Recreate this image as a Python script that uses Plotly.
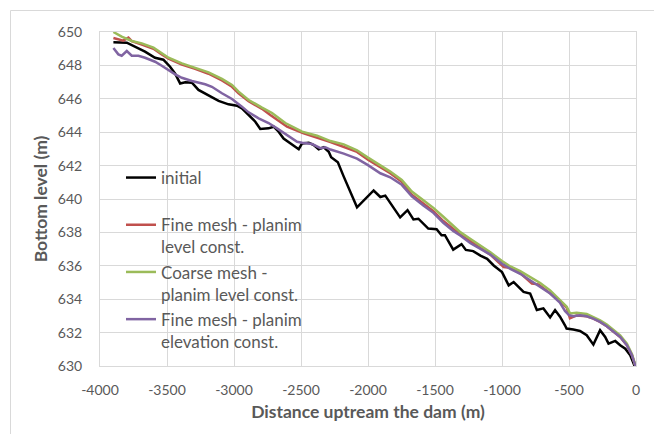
import plotly.graph_objects as go

# ---- data (distance upstream of the dam [m], bottom level [m]) ----
initial = [(-3900, 649.38), (-3800, 649.36), (-3664, 648.82), (-3589, 648.46), (-3527, 648.34),
           (-3477, 647.92), (-3439, 647.5), (-3402, 646.92), (-3364, 646.99), (-3314, 646.96),
           (-3265, 646.53), (-3190, 646.19), (-3115, 645.87), (-3041, 645.67), (-2978, 645.59),
           (-2941, 645.43), (-2891, 645.03), (-2841, 644.63), (-2804, 644.19), (-2742, 644.23),
           (-2704, 644.33), (-2667, 644.03), (-2630, 643.62), (-2555, 643.23), (-2517, 642.98),
           (-2492, 643.33), (-2442, 643.37), (-2405, 643.23), (-2368, 642.98), (-2330, 643.10),
           (-2293, 642.83), (-2275, 642.5), (-2225, 642.2), (-2181, 641.34), (-2082, 639.5),
           (-1958, 640.51), (-1908, 640.12), (-1871, 640.2), (-1760, 638.9), (-1705, 639.33),
           (-1661, 638.78), (-1624, 638.82), (-1550, 638.23), (-1488, 638.19), (-1451, 637.83),
           (-1426, 637.83), (-1364, 636.97), (-1302, 637.3), (-1270, 636.95), (-1215, 636.88),
           (-1161, 636.61), (-1111, 636.42), (-1062, 636.02), (-1000, 635.62), (-950, 634.83),
           (-913, 635.03), (-876, 634.73), (-839, 634.44), (-790, 634.34), (-740, 633.35),
           (-691, 633.45), (-641, 632.91), (-604, 633.35), (-567, 632.95), (-530, 632.44),
           (-518, 632.24), (-468, 632.18), (-418, 632.1), (-368, 631.84), (-318, 631.28),
           (-268, 632.14), (-230, 631.74), (-205, 631.34), (-155, 631.5), (-118, 631.24),
           (-80, 631.04), (-43, 630.64), (0, 629.8)]

fine_level = [(-3900, 649.64), (-3826, 649.48), (-3788, 649.66), (-3763, 649.45), (-3688, 649.25),
              (-3601, 649.0), (-3539, 648.65), (-3489, 648.4), (-3389, 648.05), (-3290, 647.8),
              (-3190, 647.5), (-3090, 647.1), (-3015, 646.72), (-2966, 646.33), (-2891, 645.85),
              (-2791, 645.4), (-2729, 645.03), (-2604, 644.33), (-2480, 643.93), (-2380, 643.69),
              (-2280, 643.41), (-2082, 642.82), (-2000, 642.36), (-1834, 641.54), (-1748, 641.04),
              (-1673, 640.26), (-1587, 639.76), (-1512, 639.27), (-1438, 638.68), (-1364, 638.23),
              (-1309, 637.86), (-1223, 637.41), (-1161, 637.07), (-1087, 636.67), (-988, 635.92),
              (-938, 635.88), (-864, 635.56), (-777, 634.93), (-728, 634.89), (-641, 634.38),
              (-567, 633.9), (-517, 633.5), (-493, 632.86), (-443, 633.03), (-368, 632.98),
              (-318, 632.84), (-268, 632.64), (-218, 632.38), (-168, 632.04), (-118, 631.74),
              (-68, 631.24), (-30, 630.64), (0, 629.9)]

coarse_level = [(-3900, 650.0), (-3838, 649.72), (-3763, 649.46), (-3688, 649.32), (-3601, 649.06),
                (-3539, 648.72), (-3489, 648.46), (-3389, 648.12), (-3290, 647.86), (-3190, 647.58),
                (-3090, 647.19), (-3015, 646.83), (-2966, 646.43), (-2891, 645.93), (-2791, 645.47),
                (-2716, 645.15), (-2617, 644.55), (-2492, 644.03), (-2380, 643.79), (-2280, 643.47),
                (-2181, 643.27), (-2082, 642.92), (-2000, 642.48), (-1908, 642.03), (-1834, 641.64),
                (-1748, 641.14), (-1673, 640.45), (-1587, 639.92), (-1512, 639.47), (-1438, 638.94),
                (-1364, 638.39), (-1309, 638.0), (-1235, 637.6), (-1161, 637.21), (-1087, 636.81),
                (-1000, 636.28), (-938, 635.96), (-864, 635.68), (-790, 635.33), (-715, 634.97),
                (-641, 634.53), (-567, 633.98), (-517, 633.55), (-493, 633.15), (-443, 633.19),
                (-368, 633.12), (-318, 632.95), (-268, 632.74), (-218, 632.48), (-168, 632.14),
                (-118, 631.84), (-68, 631.34), (-30, 630.7), (0, 629.9)]

fine_elev = [(-3900, 649.04), (-3863, 648.66), (-3838, 648.58), (-3800, 648.86), (-3763, 648.58),
             (-3713, 648.58), (-3664, 648.46), (-3589, 648.22), (-3539, 647.98), (-3489, 647.72),
             (-3439, 647.46), (-3389, 647.26), (-3314, 647.07), (-3215, 646.87), (-3165, 646.72),
             (-3090, 646.33), (-3015, 645.99), (-2941, 645.53), (-2891, 645.19), (-2816, 644.83),
             (-2742, 644.55), (-2679, 644.23), (-2617, 643.88), (-2529, 643.43), (-2492, 643.37),
             (-2417, 643.29), (-2355, 643.04), (-2318, 643.10), (-2280, 642.96), (-2181, 642.72),
             (-2082, 642.42), (-2000, 642.03), (-1908, 641.54), (-1834, 641.30), (-1748, 640.85),
             (-1673, 640.16), (-1587, 639.61), (-1512, 639.17), (-1438, 638.58), (-1364, 638.09),
             (-1309, 637.8), (-1235, 637.35), (-1161, 637.01), (-1087, 636.67), (-1000, 636.12),
             (-938, 635.82), (-864, 635.52), (-790, 635.13), (-715, 634.77), (-641, 634.34),
             (-568, 633.8), (-530, 633.3), (-500, 633.04), (-468, 632.98), (-418, 633.04),
             (-368, 632.98), (-318, 632.84), (-268, 632.64), (-218, 632.38), (-168, 632.04),
             (-118, 631.74), (-68, 631.24), (-30, 630.64), (0, 629.9)]

series_names = ["initial", "Fine mesh - planim<br>level const.",
                "Coarse mesh -<br>planim level const.", "Fine mesh - planim<br>elevation const."]
series_data = [initial, fine_level, coarse_level, fine_elev]
series_colors = ["#000000", "#C0504D", "#9BBB59", "#8064A2"]

x_ticks = [-4000, -3500, -3000, -2500, -2000, -1500, -1000, -500, 0]
y_ticks = [630, 632, 634, 636, 638, 640, 642, 644, 646, 648, 650]

W, H = 654, 434
ML, MR, MT, MB = 100, 18, 32, 68

fig = go.Figure()
for name, data, color in zip(series_names, series_data, series_colors):
    if "<br>" not in name:
        name = name + "<br>\u00a0"
    fig.add_trace(go.Scatter(
        x=[p[0] for p in data], y=[p[1] for p in data], mode="lines", name=name,
        line=dict(color=color, width=2.5), hoverinfo="skip"))

FONT = "Lato, 'Open Sans', sans-serif"
GRID = "#D9D9D9"
TXT = "#595959"

pw = W - ML - MR
ph = H - MT - MB


def px_x(p):
    return (p - ML) / pw


def px_y(p):
    return (H - MB - p) / ph


fig.update_layout(
    width=W, height=H,
    margin=dict(l=ML, r=MR, t=MT, b=MB, pad=0),
    paper_bgcolor="white", plot_bgcolor="white",
    font=dict(family=FONT, color=TXT),
    showlegend=True,
    legend=dict(x=px_x(121), y=px_y(160), xanchor="left", yanchor="top",
                bgcolor="rgba(0,0,0,0)", borderwidth=0, valign="top",
                font=dict(family=FONT, size=17, color=TXT), tracegroupgap=0),
    xaxis=dict(range=[-4000, 0], tickvals=x_ticks, ticktext=[str(v) for v in x_ticks],
               showgrid=True, gridcolor=GRID, gridwidth=1, zeroline=False,
               showline=True, linecolor=GRID, linewidth=1, mirror=True,
               ticks="", ticklabelstandoff=11,
               tickfont=dict(family=FONT, size=14, color=TXT), automargin=False,
               title=dict(text="<b>Distance uptream the dam (m)</b>", standoff=8,
                          font=dict(family=FONT, size=17.5, color=TXT))),
    yaxis=dict(range=[630, 650], tickvals=y_ticks, ticktext=[str(v) for v in y_ticks],
               showgrid=True, gridcolor=GRID, gridwidth=1, zeroline=False,
               showline=True, linecolor=GRID, linewidth=1, mirror=True,
               ticks="", ticklabelstandoff=14,
               tickfont=dict(family=FONT, size=14, color=TXT), automargin=False,
               title=dict(text="<b>Bottom level (m)</b>", standoff=5,
                          font=dict(family=FONT, size=17.5, color=TXT))),
    shapes=[dict(type="rect", xref="paper", yref="paper",
                 x0=px_x(10.5), x1=px_x(W + 10), y0=px_y(H + 10), y1=px_y(10.5),
                 line=dict(color=GRID, width=1), fillcolor="rgba(0,0,0,0)", layer="below")],
)

fig.write_html("out.html")
